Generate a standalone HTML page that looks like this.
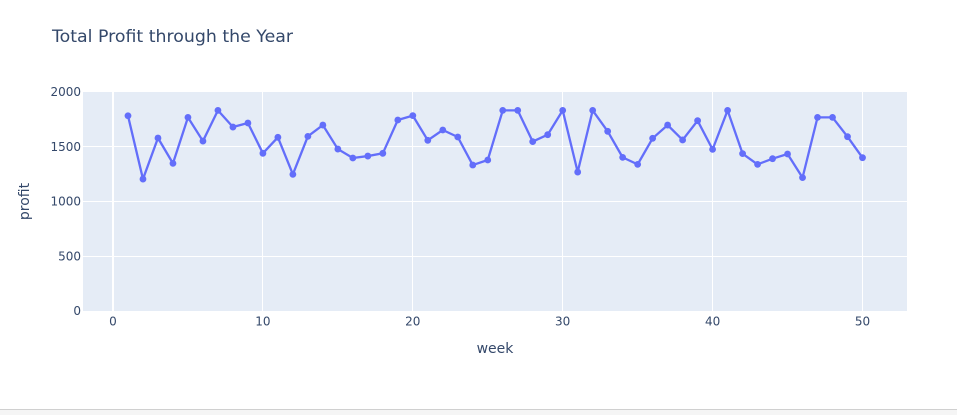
<!DOCTYPE html>
<html lang="en">
<head>
<meta charset="utf-8">
<title>Total Profit through the Year</title>
<style>
html,body{margin:0;padding:0;width:957px;height:415px;overflow:hidden;background:#fff}
svg{display:block}
text{font-family:"DejaVu Sans","Liberation Sans",sans-serif;fill:#34486a}
</style>
</head>
<body>
<svg id="chart" width="957" height="415" viewBox="0 0 957 415" xmlns="http://www.w3.org/2000/svg">
  <rect x="0" y="0" width="957" height="415" fill="#ffffff"/>
  <rect x="0" y="409" width="957" height="6" fill="#f5f5f5"/>
  <rect x="0" y="409" width="957" height="1" fill="#d0d0d0"/>
  <rect x="83" y="92" width="824" height="219" fill="#e5ecf6"/>
  <g id="grid"></g>
  <g id="xticks"></g>
  <g id="yticks"></g>
  <g id="series"></g>
  <text x="52" y="42" font-size="17" textLength="241" lengthAdjust="spacingAndGlyphs">Total Profit through the Year</text>
  <text x="495" y="353" font-size="14" text-anchor="middle">week</text>
  <text transform="translate(29 201.5) rotate(-90)" font-size="14" text-anchor="middle">profit</text>
</svg>
<script>
var weeks = [1,2,3,4,5,6,7,8,9,10,11,12,13,14,15,16,17,18,19,20,21,22,23,24,25,26,27,28,29,30,31,32,33,34,35,36,37,38,39,40,41,42,43,44,45,46,47,48,49,50];
var profit = [1783,1205,1580,1348,1768,1552,1832,1680,1717,1440,1586,1248,1595,1698,1479,1397,1415,1440,1744,1784,1559,1653,1589,1333,1379,1832,1832,1547,1610,1832,1269,1832,1641,1403,1339,1577,1698,1562,1738,1476,1832,1437,1339,1391,1434,1218,1768,1768,1592,1400];
var xTickValues = [0,10,20,30,40,50];
var yTickValues = [0,500,1000,1500,2000];

var SVG_NS = 'http://www.w3.org/2000/svg';
function xScale(v){ return 113 + v * 14.99; }
function yScale(v){ return 311 - v * 0.1095; }
function snap(p){ return Math.floor(p) + 0.5; }

function make(tag, attrs, parent){
  var el = document.createElementNS(SVG_NS, tag);
  for (var k in attrs) el.setAttribute(k, attrs[k]);
  parent.appendChild(el);
  return el;
}

var grid = document.getElementById('grid');
var xticks = document.getElementById('xticks');
var yticks = document.getElementById('yticks');
var series = document.getElementById('series');

xTickValues.forEach(function(v){
  var gx = v === 0 ? xScale(v) : snap(xScale(v));
  var line = make('line', {x1:gx, x2:gx, y1:92, y2:311, stroke:'#ffffff', 'stroke-width': v === 0 ? 2 : 1}, grid);
  
  
  var label = make('text', {x:xScale(v), y:325.5, 'font-size':12, 'text-anchor':'middle'}, xticks);
  
  
  label.textContent = String(v);
});

yTickValues.forEach(function(v){
  if (v > 0 && v < 2000) {
    var gy = snap(yScale(v));
    var line = make('line', {x1:83, x2:907, y1:gy, y2:gy, stroke:'#ffffff', 'stroke-width':1}, grid);
    
    
  }
  var label = make('text', {x:81, y:yScale(v) + 4, 'font-size':12, 'text-anchor':'end'}, yticks);
  
  
  label.textContent = String(v);
});

var pts = weeks.map(function(w, i){ return xScale(w).toFixed(2) + ',' + yScale(profit[i]).toFixed(2); }).join(' ');
var path = make('polyline', {points:pts, fill:'none', stroke:'#636efa', 'stroke-width':2.3, 'stroke-linejoin':'round'}, series);



weeks.forEach(function(w, i){
  var dot = make('circle', {cx:xScale(w), cy:yScale(profit[i]), r:3.4, fill:'#636efa'}, series);
  
  
});
</script>
</body>
</html>
